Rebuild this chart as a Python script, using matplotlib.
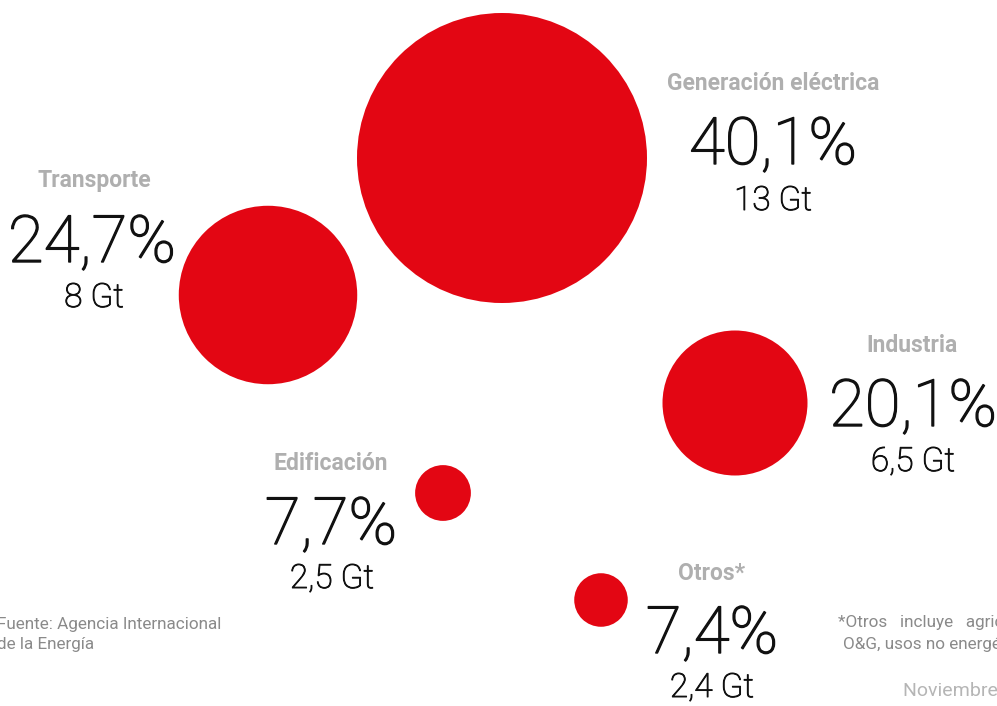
import matplotlib
matplotlib.use("Agg")
import matplotlib.pyplot as plt
from matplotlib.patches import Circle
import matplotlib.patheffects as pe

# ---- data ----
sectors = ["Generación eléctrica", "Transporte", "Industria", "Edificación", "Otros*"]
shares = ["40,1%", "24,7%", "20,1%", "7,7%", "7,4%"]
gigatons = [13, 8, 6.5, 2.5, 2.4]
gt_labels = ["13 Gt", "8 Gt", "6,5 Gt", "2,5 Gt", "2,4 Gt"]

# ---- layout (pixel coordinates) ----
centers = [(502, 158), (268, 295), (735, 403), (443, 493), (601, 600)]
label_pos = [(773, 84), (94, 181), (912, 346), (331, 463), (712, 574)]
share_pos = [(773, 146), (92, 244), (913, 408), (331, 526), (712, 635)]
gt_pos = [(773, 201), (94, 298), (913, 462), (332, 579), (712, 688)]
px_per_gt = 145 / 13

RED = "#E30613"
GRAY = "#AFAFAF"
INK = "#111111"
FONT = "Roboto"

W, H = 997, 706
fig = plt.figure(figsize=(W / 100, H / 100), dpi=100)
ax = fig.add_axes([0, 0, 1, 1])
ax.set_xlim(0, W)
ax.set_ylim(H, 0)
ax.set_aspect("equal")
ax.axis("off")

for c, g in zip(centers, gigatons):
    ax.add_patch(Circle(c, g * px_per_gt, color=RED, lw=0))

big_fx = [pe.withStroke(linewidth=1.0, foreground=INK)]
mid_fx = [pe.withStroke(linewidth=0.7, foreground=INK)]
for i in range(len(sectors)):
    ax.text(*label_pos[i], sectors[i], ha="center", va="center", fontsize=16.5,
            fontweight="bold", color=GRAY, family=FONT)
    ax.text(*share_pos[i], shares[i], ha="center", va="center", fontsize=47,
            fontweight="light", color=INK, family=FONT, path_effects=big_fx)
    ax.text(*gt_pos[i], gt_labels[i], ha="center", va="center", fontsize=24,
            fontweight="light", color=INK, family=FONT, path_effects=mid_fx)

FOOT = "#8a8a8a"
ax.text(-3, 624, "Fuente: Agencia Internacional", ha="left", va="center",
        fontsize=12.3, color=FOOT, family=FONT)
ax.text(-3, 645, "de la Energía", ha="left", va="center",
        fontsize=12.3, color=FOOT, family=FONT)
ax.text(838, 623, "*Otros   incluye   agricultura,", ha="left", va="center",
        fontsize=12.3, color=FOOT, family=FONT)
ax.text(843, 644, "O&G, usos no energéticos", ha="left", va="center",
        fontsize=12.3, color=FOOT, family=FONT)
ax.text(903, 691, "Noviembre 2021", ha="left", va="center",
        fontsize=14, color="#b5b5b5", family=FONT)

fig.savefig("out.png", dpi=100)
